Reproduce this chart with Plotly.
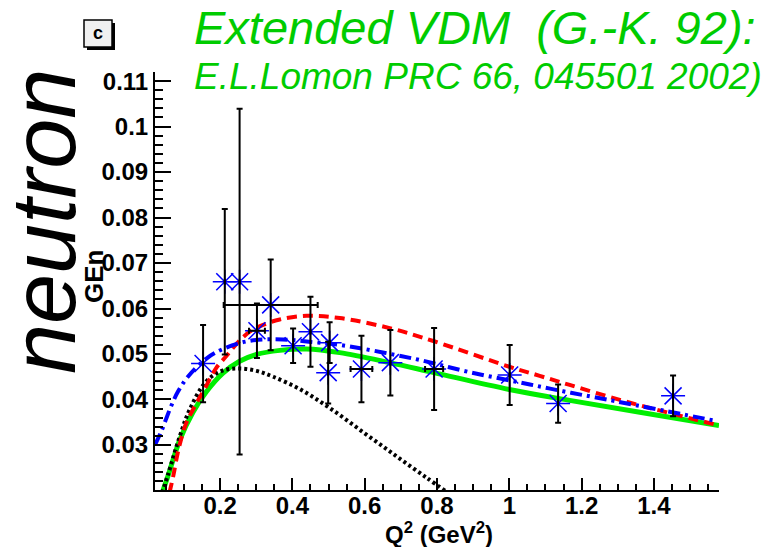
import plotly.graph_objects as go

# ---------------- data ----------------
q2_pts = [0.153, 0.213, 0.254, 0.302, 0.340, 0.402, 0.450, 0.503, 0.499, 0.591, 0.671, 0.792, 1.001, 1.135, 1.453]
gen_pts = [0.0479, 0.0659, 0.0659, 0.0551, 0.0608, 0.0518, 0.0549, 0.0525, 0.0459, 0.0467, 0.0481, 0.0467, 0.0454, 0.0391, 0.0408]
gen_err = [0.0085, 0.0160, 0.0380, 0.0060, 0.0100, 0.0038, 0.0077, 0.0045, 0.0068, 0.0073, 0.0072, 0.0090, 0.0066, 0.0042, 0.0045]
q2_err = [0, 0, 0, 0.022, 0.130, 0, 0, 0, 0, 0.030, 0, 0.025, 0, 0, 0]

green_x = [0.040, 0.056, 0.089, 0.125, 0.162, 0.208, 0.254, 0.301, 0.365, 0.439, 0.531, 0.669, 0.792, 1.000, 1.167, 1.361, 1.580]
green_y = [0.0195, 0.0232, 0.0312, 0.0372, 0.0417, 0.0458, 0.0484, 0.0499, 0.0508, 0.0511, 0.0503, 0.0481, 0.0459, 0.0422, 0.0398, 0.0372, 0.0343]

red_x = [0.060, 0.070, 0.085, 0.105, 0.130, 0.155, 0.190, 0.218, 0.245, 0.282, 0.319, 0.365, 0.439, 0.531, 0.669, 0.792, 1.000, 1.084, 1.167, 1.324, 1.580]
red_y = [0.0195, 0.0230, 0.0290, 0.0345, 0.0385, 0.0420, 0.0470, 0.0496, 0.0522, 0.0549, 0.0564, 0.0576, 0.0584, 0.0579, 0.0557, 0.0528, 0.0472, 0.0452, 0.0432, 0.0395, 0.0343]

blue_x = [0.020, 0.038, 0.052, 0.066, 0.084, 0.111, 0.162, 0.208, 0.282, 0.374, 0.457, 0.531, 0.734, 0.891, 1.057, 1.149, 1.269, 1.565]
blue_y = [0.0300, 0.0331, 0.0360, 0.0388, 0.0418, 0.0450, 0.0490, 0.0511, 0.0529, 0.0532, 0.0526, 0.0520, 0.0490, 0.0460, 0.0433, 0.0418, 0.0400, 0.0354]

black_x = [0.040, 0.056, 0.089, 0.116, 0.162, 0.208, 0.254, 0.300, 0.347, 0.420, 0.500, 0.596, 0.688, 0.771, 0.830]
black_y = [0.0195, 0.0235, 0.0320, 0.0378, 0.0440, 0.0464, 0.0468, 0.0463, 0.0450, 0.0423, 0.0383, 0.0328, 0.0275, 0.0228, 0.0195]

x_tickvals = [0.2, 0.4, 0.6, 0.8, 1.0, 1.2, 1.4]
x_ticktext = ["0.2", "0.4", "0.6", "0.8", "1", "1.2", "1.4"]
y_tickvals = [0.03, 0.04, 0.05, 0.06, 0.07, 0.08, 0.09, 0.10, 0.11]
y_ticktext = ["0.03", "0.04", "0.05", "0.06", "0.07", "0.08", "0.09", "0.1", "0.11"]

title1 = "Extended VDM  (G.-K. 92):"
title2 = "E.L.Lomon PRC 66, 045501 2002)"
side_label = "neutron"
panel_label = "c"
x_title = "Q<sup>2</sup> (GeV<sup>2</sup>)"
y_title = "GEn"

# ---------------- layout geometry ----------------
FW, FH = 767, 547
L, R, T, B = 155, 48, 72, 57
PW, PH = FW - L - R, FH - T - B


def px(xp):
    return (xp - L) / PW


def py(yp):
    return (FH - B - yp) / PH


FONT = "Liberation Sans, Arial, Helvetica, sans-serif"

fig = go.Figure()

fig.add_trace(go.Scatter(x=green_x, y=green_y, mode="lines", line=dict(color="#00ee00", width=5, shape="spline"),
                         hoverinfo="skip", showlegend=False))
fig.add_trace(go.Scatter(x=black_x, y=black_y, mode="lines",
                         line=dict(color="black", width=4, dash="3px,3px", shape="spline"),
                         hoverinfo="skip", showlegend=False))
fig.add_trace(go.Scatter(x=red_x, y=red_y, mode="lines",
                         line=dict(color="#ff0000", width=4, dash="10px,6px", shape="spline"),
                         hoverinfo="skip", showlegend=False))
fig.add_trace(go.Scatter(x=blue_x, y=blue_y, mode="lines",
                         line=dict(color="#0000ff", width=4, dash="12px,5px,3px,5px", shape="spline"),
                         hoverinfo="skip", showlegend=False))

# markers
fig.add_trace(go.Scatter(x=q2_pts, y=gen_pts, mode="markers",
                         marker=dict(symbol="asterisk-open", size=20, color="#0000ff",
                                     line=dict(color="#0000ff", width=1.5)),
                         showlegend=False))
# error bars on top
fig.add_trace(go.Scatter(x=q2_pts, y=gen_pts, mode="markers",
                         marker=dict(size=1, color="rgba(0,0,0,0)"),
                         error_y=dict(type="data", array=gen_err, color="black", thickness=2, width=3),
                         error_x=dict(type="data", array=q2_err, color="black", thickness=2, width=3),
                         showlegend=False, hoverinfo="skip"))

axis_common = dict(showgrid=False, zeroline=False, showline=True, linecolor="black", linewidth=2,
                   ticks="inside", tickcolor="black", tickwidth=1.5,
                   tickfont=dict(family=FONT, size=24, color="black", weight="bold"), mirror=False)

fig.update_xaxes(range=[0.02, 1.58], tickmode="array", tickvals=x_tickvals, ticktext=x_ticktext,
                 ticklen=12, ticklabelstandoff=-7,
                 minor=dict(ticks="inside", ticklen=6, tick0=0, dtick=0.05, tickcolor="black",
                            tickwidth=1.5, showgrid=False), **axis_common)
fig.update_yaxes(range=[0.0201, 0.112], tickmode="array", tickvals=y_tickvals, ticktext=y_ticktext,
                 ticklen=16, minor=dict(ticks="inside", ticklen=8, tick0=0, dtick=0.002, tickcolor="black",
                                        tickwidth=1.5, showgrid=False), **axis_common)

ann = []
ann.append(dict(text=title1, x=px(192), y=py(28), xref="paper", yref="paper", xanchor="left", yanchor="middle",
                showarrow=False, font=dict(family=FONT, size=47, color="#00cc00", style="italic")))
ann.append(dict(text=title2, x=px(192), y=py(76), xref="paper", yref="paper", xanchor="left", yanchor="middle",
                showarrow=False, font=dict(family=FONT, size=37, color="#00cc00", style="italic")))
ann.append(dict(text=side_label, x=px(44), y=py(222), xref="paper", yref="paper", xanchor="center",
                yanchor="middle", textangle=-90, showarrow=False,
                font=dict(family=FONT, size=90, color="black", style="italic")))
ann.append(dict(text=x_title, x=px(439), y=py(533), xref="paper", yref="paper", xanchor="center",
                yanchor="middle", showarrow=False, font=dict(family=FONT, size=24, color="black", weight="bold")))
ann.append(dict(text=y_title, x=px(94), y=py(277), xref="paper", yref="paper", xanchor="center",
                yanchor="middle", textangle=-90, showarrow=False,
                font=dict(family=FONT, size=26, color="black", weight="bold")))
ann.append(dict(text=panel_label, x=px(98), y=py(33), xref="paper", yref="paper", xanchor="center",
                yanchor="middle", showarrow=False, font=dict(family=FONT, size=18, color="black", weight="bold")))

shapes = [
    dict(type="rect", xref="paper", yref="paper", x0=px(87), x1=px(115), y0=py(50), y1=py(23),
         fillcolor="black", line=dict(width=0), layer="above"),
    dict(type="rect", xref="paper", yref="paper", x0=px(84), x1=px(112), y0=py(47), y1=py(20),
         fillcolor="#f0f0f0", line=dict(color="black", width=1.5), layer="above"),
]

fig.update_layout(width=FW, height=FH, margin=dict(l=L, r=R, t=T, b=B, pad=0),
                  paper_bgcolor="white", plot_bgcolor="white", annotations=ann, shapes=shapes,
                  showlegend=False)

fig.write_html("out.html")
